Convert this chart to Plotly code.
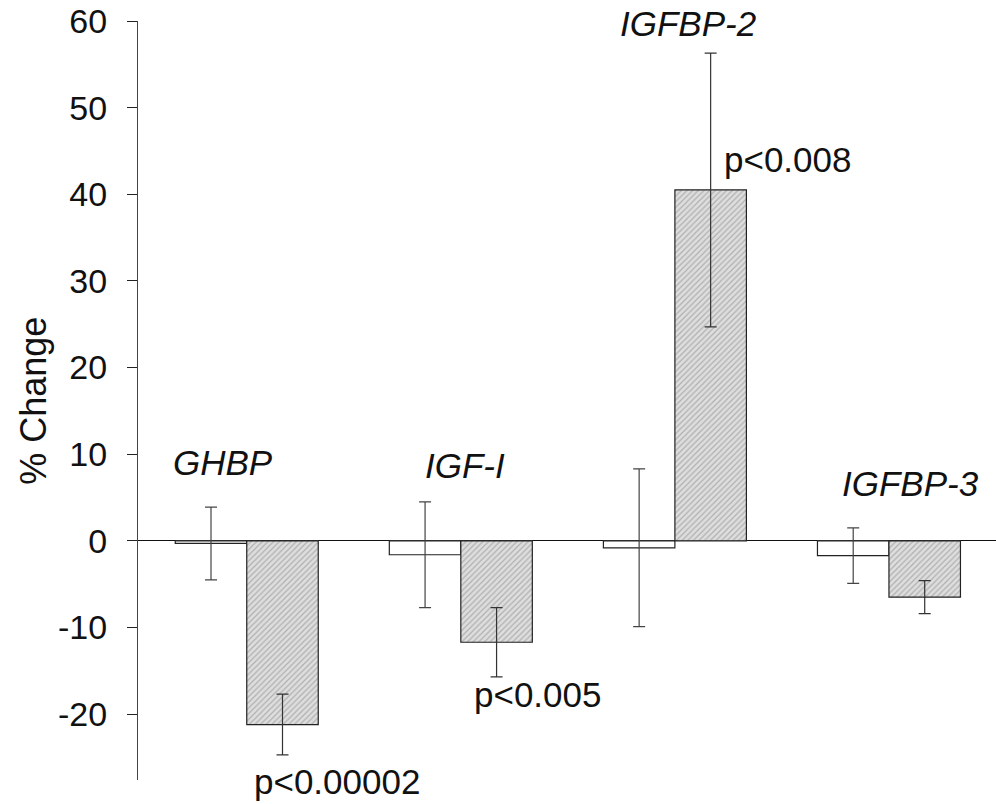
import plotly.graph_objects as go

categories = ["GHBP", "IGF-I", "IGFBP-2", "IGFBP-3"]
control = [-0.3, -1.6, -0.8, -1.7]
control_err = [4.2, 6.1, 9.1, 3.2]
treated = [-21.2, -11.7, 40.5, -6.5]
treated_err = [3.5, 4.0, 15.8, 1.9]
p_labels = ["p<0.00002", "p<0.005", "p<0.008"]
y_ticks = [-20, -10, 0, 10, 20, 30, 40, 50, 60]
y_tick_text = ["-20", "-10", "0", "10", "20", "30", "40", "50", "60"]

FONT = "Liberation Sans, Arial, sans-serif"

fig = go.Figure()
fig.add_trace(go.Bar(
    x=categories, y=control,
    marker=dict(color="white", line=dict(color="#222", width=1.2)),
    error_y=dict(type="data", array=control_err, color="#444", thickness=1.2, width=6),
    showlegend=False,
))
fig.add_trace(go.Bar(
    x=categories, y=treated,
    marker=dict(color="#dedede", line=dict(color="#222", width=1.2),
                pattern=dict(shape="/", fgcolor="#808080", bgcolor="#dedede",
                             size=4, solidity=0.3)),
    error_y=dict(type="data", array=treated_err, color="#333", thickness=1.2, width=6),
    showlegend=False,
))

ann = []
label_pos = [(-0.11, 9.0), (1.02, 8.7), (2.06, 59.7), (3.10, 6.6)]
for c, (x, y) in zip(categories, label_pos):
    ann.append(dict(x=x, y=y, xref="x", yref="y", text=f"<i>{c}</i>", showarrow=False,
                    font=dict(family=FONT, size=35, color="#111"), xanchor="center", yanchor="middle"))
# p-value labels (x in data units, y in data units; shift for the lowest one)
p_pos = [(0.42, -27.5, -2), (1.36, -17.7, 0), (2.53, 44.0, 0)]
for t, (x, y, ys) in zip(p_labels, p_pos):
    ann.append(dict(x=x, y=y, xref="x", yref="y", text=t, showarrow=False, yshift=ys,
                    font=dict(family=FONT, size=35, color="#111"), xanchor="center", yanchor="middle"))
ann.append(dict(x=-0.122, y=0.5, xref="paper", yref="paper", text="% Change", textangle=-90,
                showarrow=False, font=dict(family=FONT, size=36, color="#111"),
                xanchor="center", yanchor="middle"))

fig.update_layout(
    width=996, height=804,
    margin=dict(l=138, r=0, t=21, b=24),
    paper_bgcolor="white", plot_bgcolor="white",
    barmode="group", bargap=0.332, bargroupgap=0,
    annotations=ann,
    font=dict(family=FONT, color="#111"),
)
fig.update_xaxes(type="category", range=[-0.508, 3.50], showticklabels=False, ticks="",
                 showgrid=False, showline=False, zeroline=False)
fig.update_yaxes(range=[-27.6, 60], tickvals=y_ticks, ticktext=y_tick_text,
                 ticks="outside", ticklen=10,
                 tickcolor="#222", showline=True, linecolor="#444", linewidth=1.2,
                 showgrid=False, zeroline=True, zerolinecolor="#111", zerolinewidth=1.2,
                 tickfont=dict(family=FONT, size=34, color="#111"), ticklabelstandoff=13)

fig.write_html("out.html")
